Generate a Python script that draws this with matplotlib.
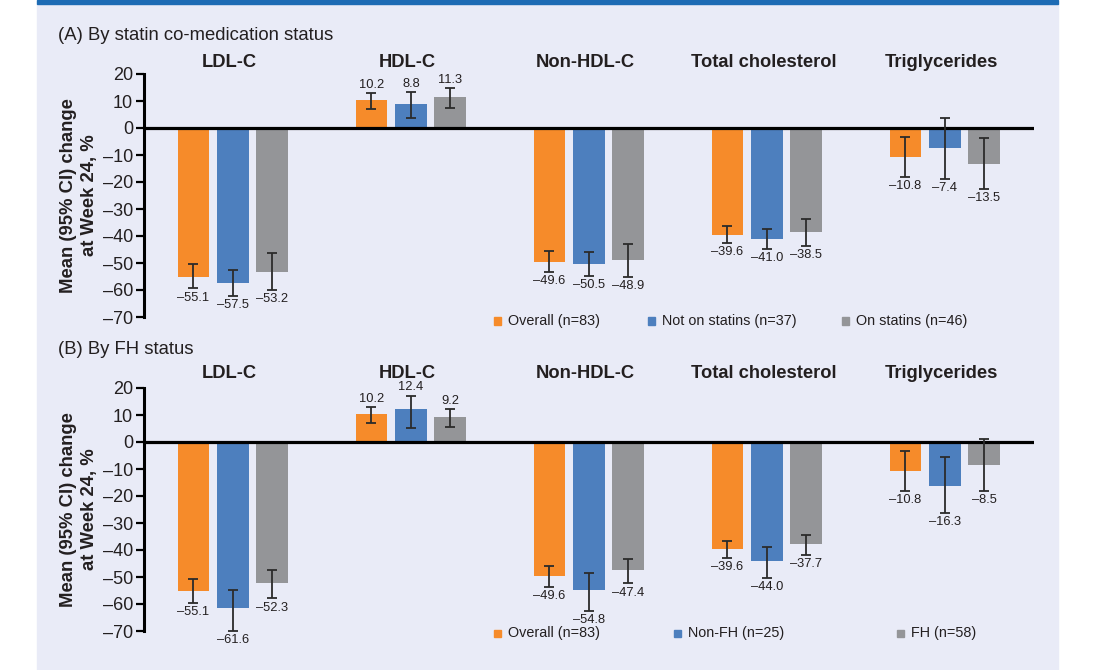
import matplotlib
matplotlib.use("Agg")
import matplotlib.pyplot as plt
from matplotlib.patches import Rectangle
import numpy as np

plt.rcParams['font.family'] = ['Liberation Sans', 'DejaVu Sans']

# ---------------- data ----------------
parameters = ["LDL-C", "HDL-C", "Non-HDL-C", "Total cholesterol", "Triglycerides"]
yticks = [20, 10, 0, -10, -20, -30, -40, -50, -60, -70]

# Panel A: by statin co-medication status
a_series = ["Overall (n=83)", "Not on statins (n=37)", "On statins (n=46)"]
a_overall = [-55.1, 10.2, -49.6, -39.6, -10.8]
a_overall_lo = [-59.4, 7.0, -53.4, -42.5, -18.1]
a_overall_hi = [-50.5, 13.0, -45.6, -36.4, -3.3]
a_nostatin = [-57.5, 8.8, -50.5, -41.0, -7.4]
a_nostatin_lo = [-62.3, 3.6, -54.7, -44.7, -18.9]
a_nostatin_hi = [-52.5, 13.2, -46.1, -37.5, 3.8]
a_statin = [-53.2, 11.3, -48.9, -38.5, -13.5]
a_statin_lo = [-60.0, 7.3, -55.2, -43.6, -22.7]
a_statin_hi = [-46.3, 14.7, -42.8, -33.7, -3.7]

# Panel B: by FH status
b_series = ["Overall (n=83)", "Non-FH (n=25)", "FH (n=58)"]
b_overall = [-55.1, 10.2, -49.6, -39.6, -10.8]
b_overall_lo = [-59.6, 6.9, -53.7, -42.9, -18.1]
b_overall_hi = [-50.8, 12.8, -45.8, -36.6, -3.3]
b_nonfh = [-61.6, 12.4, -54.8, -44.0, -16.3]
b_nonfh_lo = [-69.9, 5.2, -62.5, -50.3, -26.4]
b_nonfh_hi = [-54.8, 17.2, -48.5, -39.0, -5.6]
b_fh = [-52.3, 9.2, -47.4, -37.7, -8.5]
b_fh_lo = [-57.9, 5.6, -52.4, -41.8, -18.2]
b_fh_hi = [-47.3, 12.1, -43.3, -34.3, 1.1]

# ---------------- style ----------------
COLORS = ["#F68B2A", "#4D7FBE", "#949598"]
BG = "#E9EBF7"
TOPBAR = "#1D6BB4"
TXT = "#231F20"


def fmt(v):
    s = f"{abs(v):.1f}"
    return ("\u2013" + s) if v < 0 else s


def fmt_tick(t):
    return ("\u2013" + str(abs(t))) if t < 0 else str(t)


def draw_panel(ax, series_vals, series_lo, series_hi, title_off):
    x = np.arange(len(parameters))
    offsets = [-0.222, 0.0, 0.219]
    width = 0.175
    for i, (vals, lo, hi) in enumerate(zip(series_vals, series_lo, series_hi)):
        vals = np.array(vals)
        lo = np.array(lo)
        hi = np.array(hi)
        xs = x + offsets[i]
        ax.bar(xs, vals, width=width, color=COLORS[i], zorder=2)
        yerr = np.vstack([vals - lo, hi - vals])
        ax.errorbar(xs, vals, yerr=yerr, fmt="none", ecolor="#2b2b2b",
                    elinewidth=1.3, capsize=3.6, capthick=1.3, zorder=4)
        for xx, v, l, h in zip(xs, vals, lo, hi):
            if v < 0:
                ax.annotate(fmt(v), (xx, l), xytext=(0, -2.3), textcoords="offset points",
                            ha="center", va="top", fontsize=9.3, color=TXT)
            else:
                ax.annotate(fmt(v), (xx, h), xytext=(0, 1.5), textcoords="offset points",
                            ha="center", va="bottom", fontsize=9.3, color=TXT)
    ax.axhline(0, color="black", lw=2.3, zorder=3)
    ax.set_xlim(-0.5, 4.5)
    ax.set_ylim(-70, 20)
    ax.set_yticks(yticks)
    ax.set_yticklabels([fmt_tick(t) for t in yticks], fontsize=13, color=TXT)
    ax.set_xticks([])
    for s in ["top", "right", "bottom"]:
        ax.spines[s].set_visible(False)
    ax.spines["left"].set_linewidth(2.2)
    ax.spines["left"].set_color("black")
    ax.tick_params(axis="y", length=6, width=1.6, pad=2, color="black")
    ax.patch.set_alpha(0)
    ax.set_ylabel("Mean (95% CI) change\nat Week 24, %", fontsize=13.3,
                  fontweight="bold", color=TXT, labelpad=3, linespacing=1.3)
    for xi, name in zip(x, parameters):
        ax.text(xi - 0.02, 1.0 + title_off / 243, name, transform=ax.get_xaxis_transform(),
                ha="center", va="center", fontsize=13.2, fontweight="bold", color=TXT)


fig = plt.figure(figsize=(11.02, 6.70), dpi=100)
W, H = 1102, 670
fig.patch.set_facecolor("white")
fig.add_artist(Rectangle((37 / W, 0), (1058 - 37) / W, 1 - 4 / H,
                         transform=fig.transFigure, color=BG, zorder=-10))
fig.add_artist(Rectangle((37 / W, 1 - 4 / H), (1058 - 37) / W, 4 / H,
                         transform=fig.transFigure, color=TOPBAR, zorder=-10))

axA = fig.add_axes([144 / W, 1 - 317 / H, (1034 - 144) / W, (317 - 74) / H])
axB = fig.add_axes([144 / W, 1 - 631 / H, (1034 - 144) / W, (631 - 388) / H])

draw_panel(axA, [a_overall, a_nostatin, a_statin],
           [a_overall_lo, a_nostatin_lo, a_statin_lo],
           [a_overall_hi, a_nostatin_hi, a_statin_hi], 11.5)
draw_panel(axB, [b_overall, b_nonfh, b_fh],
           [b_overall_lo, b_nonfh_lo, b_fh_lo],
           [b_overall_hi, b_nonfh_hi, b_fh_hi], 14)

fig.text(58 / W, 1 - 36 / H, "(A) By statin co-medication status", fontsize=13.3,
         color=TXT, ha="left", va="center")
fig.text(58 / W, 1 - 350 / H, "(B) By FH status", fontsize=13.3,
         color=TXT, ha="left", va="center")


def legend(labels, y, xs_sq):
    for lab, xs, c in zip(labels, xs_sq, COLORS):
        fig.add_artist(Rectangle(((xs - 3.5) / W, 1 - (y + 3.5) / H), 7 / W, 7 / H,
                                 transform=fig.transFigure, color=c))
        fig.text((xs + 11) / W, 1 - y / H, lab, fontsize=10.4, color=TXT,
                 ha="left", va="center")


legend(a_series, 321, [497, 651, 845])
legend(b_series, 633, [497, 677, 900])

fig.savefig("out.png", dpi=100)
